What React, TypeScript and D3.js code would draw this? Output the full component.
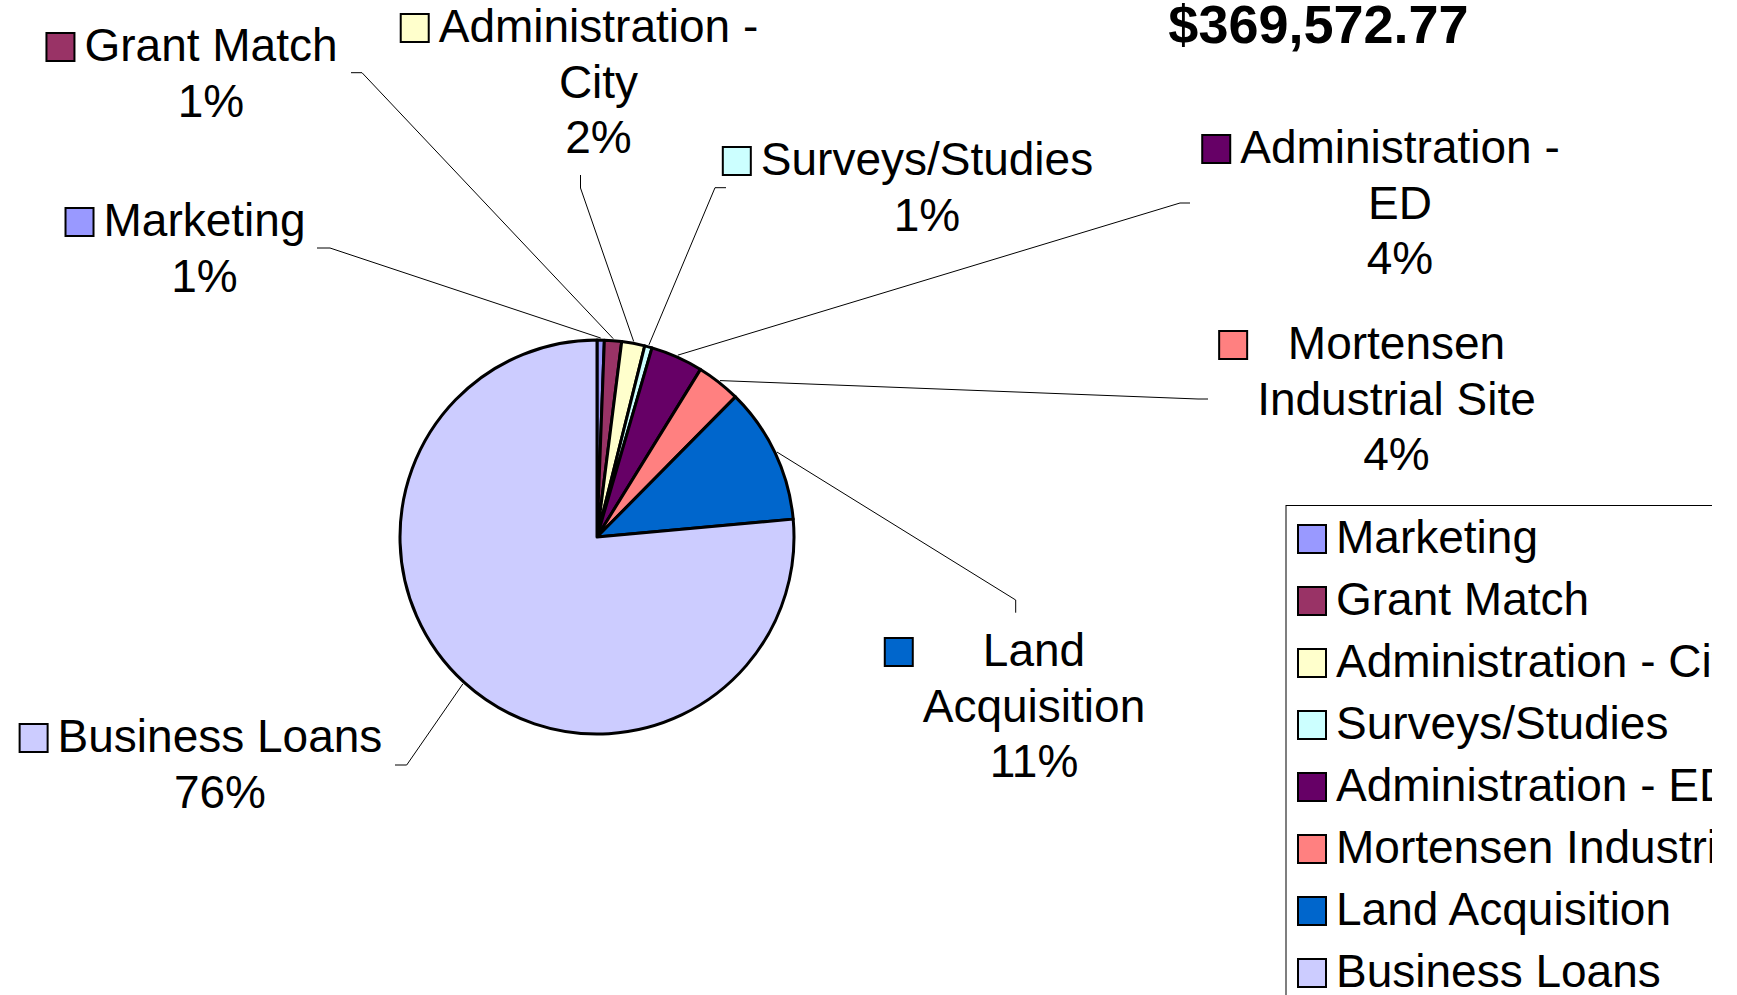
import React, { useMemo } from "react";
import * as d3 from "d3";

// ---------- data ----------
const categories = [
  "Marketing",
  "Grant Match",
  "Administration - City",
  "Surveys/Studies",
  "Administration - ED",
  "Mortensen Industrial Site",
  "Land Acquisition",
  "Business Loans",
];
const amounts = [2200, 5200, 7000, 2250, 15900, 13300, 41200, 282522.77];
const colors = ["#9999FF", "#993366", "#FFFFCC", "#CCFFFF", "#660066", "#FF8080", "#0066CC", "#CCCCFF"];
const labelLines = [
  ["Marketing"],
  ["Grant Match"],
  ["Administration -", "City"],
  ["Surveys/Studies"],
  ["Administration -", "ED"],
  ["Mortensen", "Industrial Site"],
  ["Land", "Acquisition"],
  ["Business Loans"],
];

// ---------- layout ----------
const W = 1737;
const H = 995;
const CX = 597;
const CY = 537;
const R = 197;
const FONT = '"Liberation Sans", Arial, sans-serif';
const FS = 46;
const LINE_H = 55.5;
const KEY = 28;
const labelPos = [
  { x: 204.5, y: 236 },
  { x: 211, y: 61 },
  { x: 598.5, y: 42 },
  { x: 927, y: 175 },
  { x: 1400, y: 163 },
  { x: 1396.5, y: 359 },
  { x: 1034, y: 666 },
  { x: 220, y: 752 },
];
const leaderElbow: [number, number][][] = [
  [[317, 248], [330, 248]],
  [[351, 72.7], [362, 72.7]],
  [[580.5, 175], [580.5, 188]],
  [[726, 187.7], [715, 187.7]],
  [[1190, 203], [1180, 203]],
  [[1208, 399], [1198, 399]],
  [[1015.7, 612.7], [1015.7, 600]],
  [[395, 765], [406.7, 765]],
];
const LEG_X = 1286;
const LEG_Y = 505.5;
const LEG_ROW0 = 553;
const LEG_STEP = 62;
const CLIP_RIGHT = 1712;

let ctx: CanvasRenderingContext2D | null = null;
function measure(t: string) {
  if (!ctx) {
    const c = document.createElement("canvas");
    ctx = c.getContext("2d");
  }
  if (!ctx) return t.length * FS * 0.5;
  ctx.font = `${FS}px "Liberation Sans", Arial, sans-serif`;
  return ctx.measureText(t).width;
}

export default function App() {
  const total = d3.sum(amounts);
  const pie = useMemo(
    () =>
      d3
        .pie<number>()
        .sort(null)
        .startAngle(0)
        .endAngle(2 * Math.PI)(amounts),
    []
  );
  const arc = d3.arc<d3.PieArcDatum<number>>().innerRadius(0).outerRadius(R);
  const edgeArc = d3.arc<d3.PieArcDatum<number>>().innerRadius(R + 2).outerRadius(R + 2);
  const pct = (v: number) => `${Math.round((v / total) * 100)}%`;
  const line = d3.line();

  return (
    <div style={{ position: "absolute", left: 0, top: 0 }}>
      <svg width={W} height={H} style={{ display: "block", background: "#fff" }} fontFamily={FONT}>
        <defs>
          <clipPath id="legclip">
            <rect x={0} y={0} width={CLIP_RIGHT} height={H} />
          </clipPath>
        </defs>

        {/* title */}
        <text x={1318.5} y={43} textAnchor="middle" fontSize={54} fontWeight="bold" fill="#000">
          {d3.format("$,.2f")(total)}
        </text>

        {/* leader lines */}
        {pie.map((d, i) => {
          const [ex, ey] = edgeArc.centroid(d);
          const pts: [number, number][] = [...leaderElbow[i], [CX + ex, CY + ey]];
          return <path key={"l" + i} d={line(pts) || ""} fill="none" stroke="#000" strokeWidth={1} />;
        })}

        {/* pie */}
        <g transform={`translate(${CX},${CY})`}>
          {pie.map((d, i) => (
            <path
              key={"s" + i}
              d={arc(d) || ""}
              fill={colors[i]}
              stroke="#000"
              strokeWidth={3}
              strokeLinejoin="round"
            />
          ))}
        </g>

        {/* data labels */}
        {pie.map((d, i) => {
          const lines = [...labelLines[i], pct(d.value)];
          const p = labelPos[i];
          const widths = lines.map((t) => measure(t));
          const blockLeft = p.x - Math.max(...widths) / 2;
          return (
            <g key={"t" + i}>
              <rect
                x={blockLeft - 10 - KEY}
                y={p.y - KEY}
                width={KEY}
                height={KEY}
                fill={colors[i]}
                stroke="#000"
                strokeWidth={2}
              />
              {lines.map((t, j) => (
                <text key={j} x={p.x} y={p.y + j * LINE_H} textAnchor="middle" fontSize={FS} fill="#000">
                  {t}
                </text>
              ))}
            </g>
          );
        })}

        {/* legend */}
        <g clipPath="url(#legclip)">
          <rect x={LEG_X} y={LEG_Y} width={600} height={700} fill="#fff" stroke="#000" strokeWidth={1} />
          {categories.map((c, i) => {
            const by = LEG_ROW0 + i * LEG_STEP;
            return (
              <g key={"g" + i}>
                <rect x={1298} y={by - KEY} width={KEY} height={KEY} fill={colors[i]} stroke="#000" strokeWidth={2} />
                <text x={1336} y={by} fontSize={FS} fill="#000">
                  {c}
                </text>
              </g>
            );
          })}
        </g>
      </svg>
    </div>
  );
}
